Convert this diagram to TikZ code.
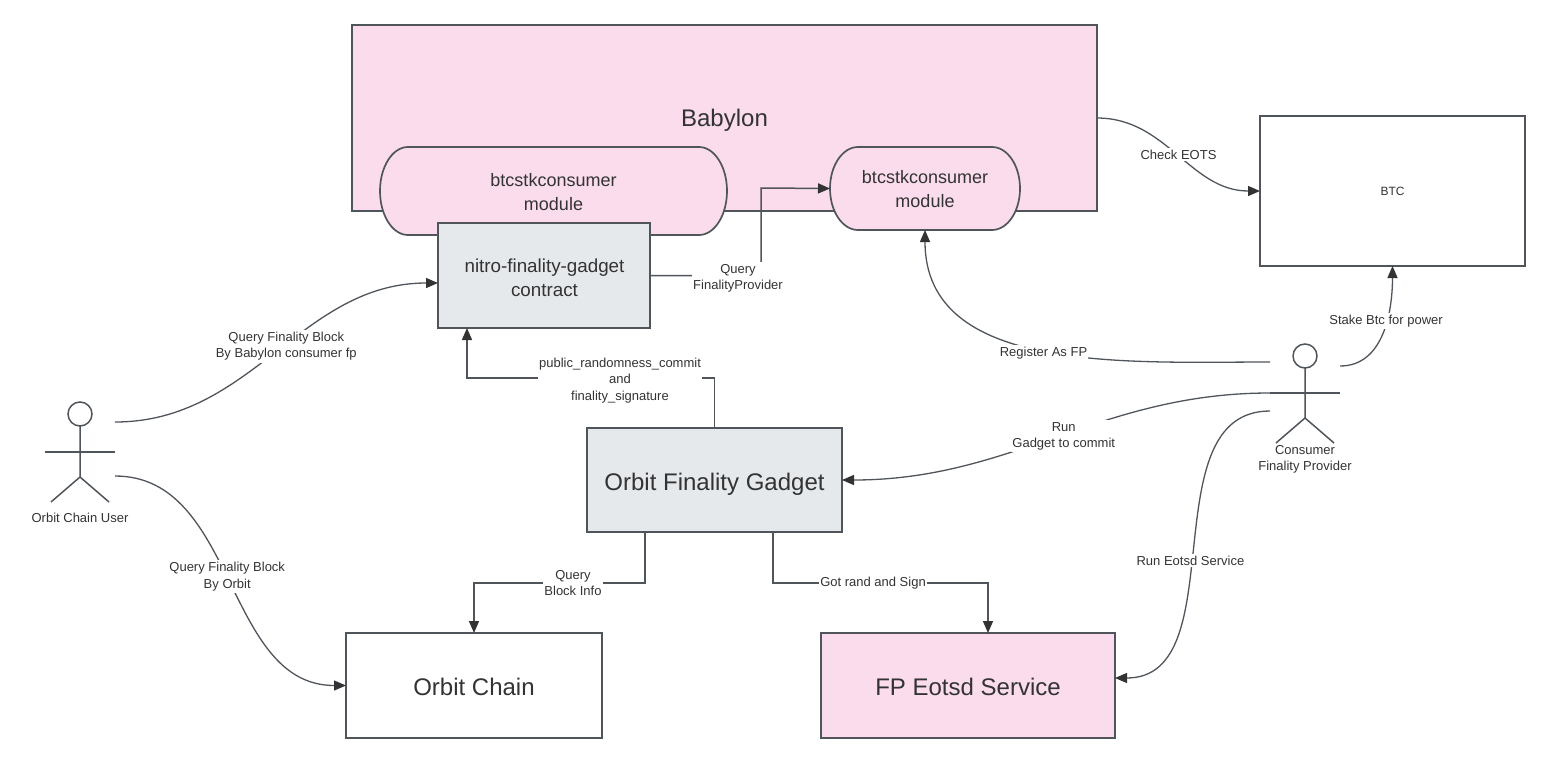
\documentclass[tikz,border=0pt]{standalone}
\usepackage{fontspec}
\setmainfont{Liberation Sans}
\usetikzlibrary{arrows.meta}
\definecolor{linegrey}{HTML}{50555C}
\definecolor{textgrey}{HTML}{333333}
\definecolor{pinkfill}{HTML}{FADCEC}
\definecolor{greyfill}{HTML}{E6E9EC}
\tikzset{
  box/.style={draw=linegrey, line width=2pt, inner sep=0pt, outer sep=0pt, align=center, text=textgrey},
  bigtext/.style={font=\fontsize{24}{28}\selectfont, text height=22pt, text depth=2pt},
  midtext/.style={font=\fontsize{18}{24}\selectfont, text=textgrey, align=center, inner sep=0pt},
  smalltext/.style={font=\fontsize{13}{16.5}\selectfont, text=textgrey, align=center},
  edge/.style={draw=linegrey, line width=1.5pt, -{Triangle[length=12pt,width=10pt,color=textgrey]}},
  curvededge/.style={edge, line width=1.3pt},
  edgelabel/.style={smalltext, fill=white, inner xsep=1pt, inner ysep=2pt, outer sep=0pt},
  actorline/.style={draw=linegrey, line width=1.5pt},
  actorhead/.style={circle, draw=linegrey, line width=1.5pt, minimum size=24pt, inner sep=0pt, outer sep=0pt},
  pill/.style={draw=linegrey, line width=1.7pt, fill=pinkfill}
}
\begin{document}
\begin{tikzpicture}[x=1pt,y=-1pt]
  \useasboundingbox[fill=white] (0,0) rectangle (1550,763);

  % babylon and its modules
  \node[box, bigtext, text height=19pt, text depth=3pt, fill=pinkfill, minimum width=745pt, minimum height=186pt] (babylon) at (724.5,118) {Babylon};

  \node[minimum width=347pt, minimum height=88pt, inner sep=0pt, outer sep=0pt] (moduleA) at (553.5,191) {};
  \draw[pill] ([xshift=28]moduleA.north west) -- ([xshift=-28]moduleA.north east)
    arc[start angle=-90, end angle=90, x radius=28, y radius=44]
    -- ([xshift=28]moduleA.south west)
    arc[start angle=90, end angle=270, x radius=28, y radius=44] -- cycle;
  \node[midtext] (moduleAText) at (553.5,192.5) {btcstkconsumer\\module};

  \node[minimum width=190pt, minimum height=83pt, inner sep=0pt, outer sep=0pt] (moduleB) at (925,188.5) {};
  \draw[pill] ([xshift=28]moduleB.north west) -- ([xshift=-28]moduleB.north east)
    arc[start angle=-90, end angle=90, x radius=28, y radius=41.5]
    -- ([xshift=28]moduleB.south west)
    arc[start angle=90, end angle=270, x radius=28, y radius=41.5] -- cycle;
  \node[midtext] (moduleBText) at (925,189.5) {btcstkconsumer\\module};

  % boxes
  \node[box, fill=greyfill, minimum width=212pt, minimum height=105pt] (contract) at (544,275.5) {};
  \node[midtext, font=\fontsize{18.8}{24}\selectfont] (contractText) at (544.5,277.5) {nitro-finality-gadget\\contract};
  \node[box, bigtext, fill=greyfill, minimum width=255pt, minimum height=104pt] (gadget) at (714.5,480) {Orbit Finality Gadget};
  \node[box, bigtext, minimum width=256pt, minimum height=105pt] (orbit) at (474,685.5) {Orbit Chain};
  \node[box, bigtext, fill=pinkfill, minimum width=294pt, minimum height=105pt] (eotsd) at (968,685.5) {FP Eotsd Service};
  \node[box, font=\fontsize{12}{16}\selectfont, minimum width=265pt, minimum height=150pt] (btc) at (1392.5,191) {BTC};

  % orbit chain user
  \node[actorhead] (userHead) at (80,414) {};
  \coordinate (userHip) at (80,477);
  \coordinate (userArmL) at (45,452);
  \coordinate (userArmR) at (115,452);
  \coordinate (userLegL) at (51,502);
  \coordinate (userLegR) at (109,502);
  \coordinate (userTop) at (115,422);
  \coordinate (userLow) at (115,476);
  \draw[actorline] (userHead) -- (userHip) -- (userLegL);
  \draw[actorline] (userHip) -- (userLegR);
  \draw[actorline] (userArmL) -- (userArmR);
  \node[smalltext, inner sep=0pt] (userText) at (80,518) {Orbit Chain User};

  % consumer finality provider
  \node[actorhead] (fpHead) at (1305,356) {};
  \coordinate (fpHip) at (1305,418);
  \coordinate (fpArmL) at (1270,393);
  \coordinate (fpArmR) at (1340,393);
  \coordinate (fpLegL) at (1276,443);
  \coordinate (fpLegR) at (1334,443);
  \coordinate (fpTop) at (1270,362);
  \coordinate (fpLow) at (1270,411);
  \coordinate (fpRight) at (1340,366);
  \draw[actorline] (fpHead) -- (fpHip) -- (fpLegL);
  \draw[actorline] (fpHip) -- (fpLegR);
  \draw[actorline] (fpArmL) -- (fpArmR);
  \node[smalltext, inner sep=0pt] (fpText) at (1305,459.5) {Consumer\\Finality Provider};

  % curved connectors
  \draw[curvededge] (userTop) to[out=0, in=180] node[edgelabel, pos=0.535, yshift=-1pt] (lblBabylonFp) {Query Finality Block\\By Babylon consumer fp} ([yshift=-7.5]contract.west);
  \draw[curvededge] (userLow) to[out=0, in=180] node[edgelabel, pos=0.48, yshift=-2pt] (lblByOrbit) {Query Finality Block\\By Orbit} (orbit.west);
  \draw[curvededge] (babylon.east) to[out=0, in=180] node[edgelabel] (lblEots) {Check EOTS} (btc.west);
  \draw[curvededge] (fpTop) to[out=180, in=-90] node[edgelabel, yshift=-3.5pt] (lblRegister) {Register As FP} (moduleB.south);
  \draw[curvededge] (fpArmL) to[out=180, in=0] node[edgelabel, pos=0.48, yshift=-2.5pt] (lblRun) {Run\\Gadget to commit} (gadget.east);
  \draw[curvededge] (fpLow) to[out=180, in=0] node[edgelabel, pos=0.54] (lblEotsd) {Run Eotsd Service} ([yshift=7.5]eotsd.east);
  \draw[curvededge] (fpRight) to[out=0, in=-90] node[edgelabel, pos=0.58, yshift=2pt] (lblStake) {Stake Btc for power} (btc.south);

  % square connectors
  \draw[edge] (contract.east) -| (761,188) -- (moduleB.west);
  \node[edgelabel] (lblQueryFp) at (738,278.5) {Query\\FinalityProvider};
  \draw[edge] (gadget.north) |- (467,378) -- ([xshift=29]contract.south west);
  \node[edgelabel] (lblCommit) at (620,380.5) {public\_randomness\_commit\\and\\finality\_signature};
  \draw[edge] ([xshift=58]gadget.south west) |- (474,583) -- (orbit.north);
  \node[edgelabel] (lblBlockInfo) at (573,583) {Query\\Block Info};
  \draw[edge] ([xshift=186]gadget.south west) |- (988,583) -- ([xshift=20]eotsd.north);
  \node[edgelabel] (lblSign) at (873,583) {Got rand and Sign};
\end{tikzpicture}
\end{document}
